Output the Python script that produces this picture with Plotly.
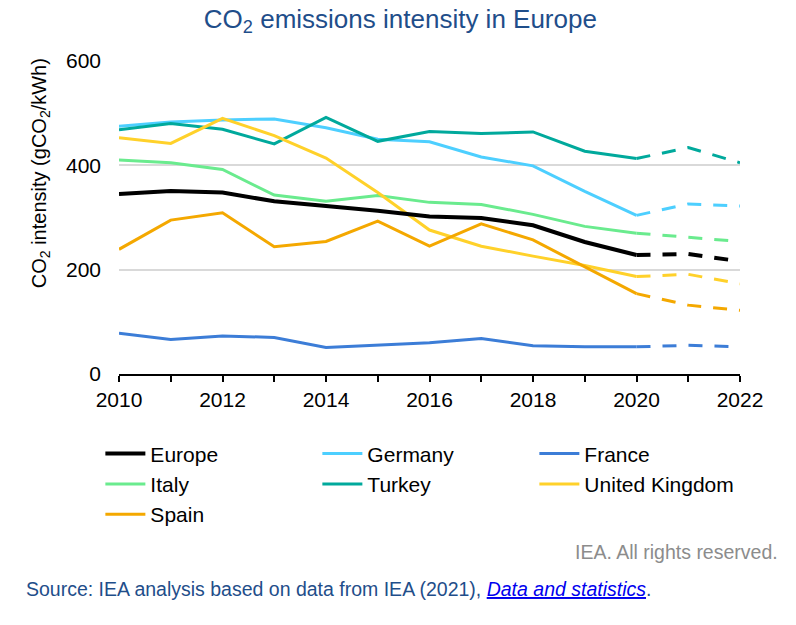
import plotly.graph_objects as go

years = [2010, 2011, 2012, 2013, 2014, 2015, 2016, 2017, 2018, 2019, 2020]
proj_years = [2020, 2021, 2022]

europe = [345, 351, 348, 331, 322, 313, 302, 299, 285, 253, 228]
europe_proj = [228, 230, 216]
germany = [475, 483, 487, 489, 472, 450, 445, 416, 399, 350, 304]
germany_proj = [304, 326, 322]
france = [78, 66, 73, 70, 51, 55, 60, 68, 54, 52, 52]
france_proj = [52, 55, 52]
italy = [410, 405, 392, 343, 331, 342, 329, 325, 306, 283, 270]
italy_proj = [270, 262, 254]
turkey = [468, 480, 469, 441, 492, 446, 465, 461, 464, 427, 413]
turkey_proj = [413, 434, 405]
uk = [453, 442, 490, 457, 414, 348, 276, 245, 226, 208, 187]
uk_proj = [187, 191, 173]
spain = [239, 295, 309, 244, 254, 293, 245, 288, 257, 205, 154]
spain_proj = [154, 132, 122]

tick_years = [2010, 2012, 2014, 2016, 2018, 2020, 2022]
tick_labels = ["2010", "2012", "2014", "2016", "2018", "2020", "2022"]

series = [
    # name, hist, proj, color, width, legend rank
    ("Germany", germany, germany_proj, "#4dcfff", 3, 2),
    ("France", france, france_proj, "#3c7dd7", 3, 3),
    ("Italy", italy, italy_proj, "#6aeb8e", 3, 4),
    ("Turkey", turkey, turkey_proj, "#00a99c", 3, 5),
    ("United Kingdom", uk, uk_proj, "#ffd12a", 3, 6),
    ("Spain", spain, spain_proj, "#f4a800", 3, 7),
    ("Europe", europe, europe_proj, "#000000", 4, 1),
]

FONT = "Liberation Sans, Arial, sans-serif"

fig = go.Figure()
for name, hist, proj, color, width, rank in series:
    fig.add_trace(go.Scatter(
        x=years, y=hist, mode="lines", name=name, legendgroup=name,
        legendrank=rank, line=dict(color=color, width=width),
        hoverinfo="x+y+name"))
    fig.add_trace(go.Scatter(
        x=proj_years, y=proj, mode="lines", name=name, legendgroup=name,
        showlegend=False, line=dict(color=color, width=width, dash="14px,12px"),
        hoverinfo="x+y+name"))

fig.update_layout(
    width=796, height=625,
    paper_bgcolor="white", plot_bgcolor="white",
    margin=dict(l=119, r=56, t=61, b=251, autoexpand=False),
    font=dict(family=FONT, size=20, color="#000000"),
    title=dict(text="CO<sub>2</sub> emissions intensity in Europe",
               x=0.503, xanchor="center", y=0.970, yanchor="middle",
               font=dict(family=FONT, size=26, color="#1f4e8a")),
    xaxis=dict(range=[2010, 2022], tickvals=tick_years, ticktext=tick_labels,
               ticks="outside", ticklen=6, tickwidth=1.5, tickcolor="#000",
               minor=dict(ticks="outside", tickmode="linear", tick0=2010, dtick=1,
                          ticklen=6, tickwidth=1.5, tickcolor="#000", showgrid=False),
               showline=True, linecolor="#000", linewidth=1.5,
               showgrid=False, zeroline=False, ticklabelstandoff=0,
               automargin=False, tickfont=dict(size=21)),
    yaxis=dict(range=[0, 600], tickvals=[0, 200, 400, 600],
               showgrid=True, gridcolor="#d9d9d9", gridwidth=1.5,
               zeroline=False, showline=False, ticks="",
               ticklabelstandoff=17, automargin=False, tickfont=dict(size=21)),
    legend=dict(orientation="h", x=-0.03, xanchor="left", y=-0.19, yanchor="top",
                entrywidth=162, entrywidthmode="pixels", traceorder="normal",
                font=dict(size=21), tracegroupgap=0, itemwidth=40,
                bgcolor="rgba(0,0,0,0)"),
    showlegend=True,
)

fig.add_annotation(text="CO<sub>2</sub> intensity (gCO<sub>2</sub>/kWh)",
                   textangle=-90, xref="paper", yref="paper",
                   x=-0.127, y=0.642, xanchor="center", yanchor="middle",
                   showarrow=False, font=dict(family=FONT, size=20, color="#000"))
fig.add_annotation(text="IEA. All rights reserved.", xref="paper", yref="paper",
                   x=1.0644, y=-0.5687, xanchor="right", yanchor="middle",
                   showarrow=False, font=dict(family=FONT, size=19.5, color="#8c8c8c"))
fig.add_annotation(
    text="Source: IEA analysis based on data from IEA (2021), "
         "<a href='https://www.iea.org/data-and-statistics' style='color:#0000ee'>"
         "<i><u>Data and statistics</u></i></a>.",
    xref="paper", yref="paper", x=-0.153, y=-0.687, xanchor="left", yanchor="middle",
    showarrow=False, font=dict(family=FONT, size=19.5, color="#1f4e8a"))

fig.write_html("out.html",
               config={"displayModeBar": False},
               post_script="document.body.style.margin='0';"
                           "document.body.style.overflow='hidden';")
